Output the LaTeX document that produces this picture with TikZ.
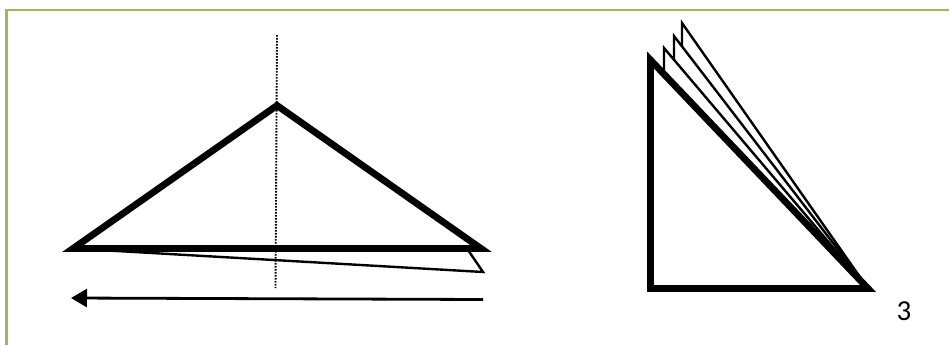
\documentclass[tikz,border=0pt]{standalone}
\usepackage{fontspec}
\setmainfont{Carlito}
\usetikzlibrary{arrows.meta}
\definecolor{frameg}{HTML}{9BBB59}
\tikzset{
  thick tri/.style={draw=black,line width=6.8pt,miter limit=20,line join=miter},
  thin ln/.style={draw=black,line width=2.4pt,line join=miter},
  dotln/.style={draw=black,line width=1.9pt,dash pattern=on 1.6pt off 1.4pt},
  framel/.style={draw=frameg,line width=2.8pt},
}
\begin{document}
\begin{tikzpicture}[x=1pt,y=-1pt]
\useasboundingbox (0,0) rectangle (949,345);
\coordinate (fa) at (6.5,345);
\coordinate (fb) at (6.5,10);
\coordinate (fc) at (949,10);
\draw[framel] (fa) -- (fb) -- (fc);
% left figure
\coordinate (ap) at (277,105.5);
\coordinate (le) at (73,248.5);
\coordinate (ri) at (481,248.5);
\coordinate (fo) at (483,272);
\coordinate (fi) at (468,250);
\coordinate (dt) at (277,35);
\coordinate (db) at (275.5,288);
\draw[thin ln] (le) -- (fo) -- (fi);
\draw[dotln] (dt) -- (db);
\draw[thick tri] (le) -- (ap) -- (ri) -- cycle;
\coordinate (as) at (483,299.5);
\coordinate (ae) at (71,298);
\draw[line width=2.8pt,-{Triangle[length=16pt,width=18pt]}] (as) -- (ae);
% right figure
\coordinate (ta) at (650.5,60);
\coordinate (tb) at (650.5,288.5);
\coordinate (tc) at (868,288.5);
\coordinate (p1) at (664,48);
\coordinate (q1) at (664,71);
\coordinate (p2) at (674,36);
\coordinate (q2) at (674,60);
\coordinate (p3) at (682,23);
\coordinate (q3) at (682,47);
\draw[thin ln] (q1) -- (p1) -- (tc);
\draw[thin ln] (q2) -- (p2) -- (tc);
\draw[thin ln] (q3) -- (p3) -- (tc);
\draw[thick tri] (ta) -- (tb) -- (tc) -- cycle;
\node[font=\fontsize{29}{32}\selectfont,inner sep=0pt] (num) at (904,311) {3};
\end{tikzpicture}
\end{document}
